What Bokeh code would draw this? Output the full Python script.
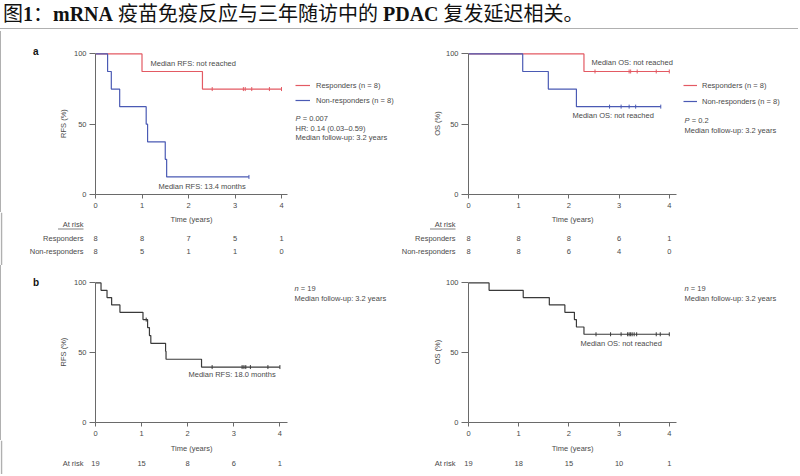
from math import pi
from bokeh.plotting import figure
from bokeh.models import Label, Legend, LegendItem, Div, FixedTicker, Range1d
from bokeh.core.properties import value
from bokeh.layouts import column, row
from bokeh.embed import file_html
from bokeh.resources import INLINE

# ---------------- data ----------------
year_ticks = [0, 1, 2, 3, 4]
pct_ticks = [0, 50, 100]

# panel a, RFS
a_rfs_resp_t = [0, 1.00, 2.30, 4.00]
a_rfs_resp_s = [100, 87.5, 75.0, 75.0]
a_rfs_resp_cens = [2.51, 3.18, 3.22, 3.36, 3.74, 4.00]
a_rfs_resp_cens_s = [75.0] * 6
a_rfs_non_t = [0, 0.26, 0.34, 0.52, 1.09, 1.12, 1.50, 1.53, 3.30]
a_rfs_non_s = [100, 87.5, 75.0, 62.5, 50.0, 37.5, 25.0, 12.5, 12.5]
a_rfs_non_cens = [3.30]
a_rfs_non_cens_s = [12.5]
a_rfs_risk_resp = [8, 8, 7, 5, 1]
a_rfs_risk_non = [8, 5, 1, 1, 0]

# panel a, OS
a_os_resp_t = [0, 2.30, 4.00]
a_os_resp_s = [100, 87.5, 87.5]
a_os_resp_cens = [2.52, 3.20, 3.23, 3.36, 3.74, 4.00]
a_os_resp_cens_s = [87.5] * 6
a_os_non_t = [0, 1.08, 1.59, 2.15, 3.83]
a_os_non_s = [100, 87.5, 75.0, 62.5, 62.5]
a_os_non_cens = [2.81, 3.04, 3.20, 3.33, 3.83]
a_os_non_cens_s = [62.5] * 5
a_os_risk_resp = [8, 8, 8, 6, 1]
a_os_risk_non = [8, 8, 6, 4, 0]

# panel b, RFS (n = 19)
b_rfs_t = [0, 0.12, 0.25, 0.35, 0.53, 1.03, 1.13, 1.17, 1.20, 1.52, 1.53, 2.30, 4.00]
b_rfs_s = [100, 94.7, 89.5, 84.2, 78.9, 73.7, 68.0, 62.3, 56.7, 51.0, 45.3, 39.7, 39.7]
b_rfs_cens = [1.10, 2.53, 3.18, 3.22, 3.26, 3.36, 3.74, 4.00]
b_rfs_cens_s = [73.7, 39.7, 39.7, 39.7, 39.7, 39.7, 39.7, 39.7]
b_rfs_risk = [19, 15, 8, 6, 1]

# panel b, OS (n = 19)
b_os_t = [0, 0.41, 1.09, 1.61, 1.92, 2.11, 2.15, 2.30, 4.00]
b_os_s = [100, 94.7, 89.5, 84.2, 78.9, 73.7, 68.4, 63.2, 63.2]
b_os_cens = [2.54, 2.83, 3.04, 3.17, 3.20, 3.23, 3.26, 3.30, 3.35, 3.74, 3.82, 4.00]
b_os_cens_s = [63.2] * 12
b_os_risk = [19, 18, 15, 10, 1]

# ---------------- style ----------------
RED = "#e35a63"
BLUE = "#4a5ab4"
BLACK = "#3a3a3a"
AXC = "#6a6a6a"
TXT = "#4a4a4a"
FRAMEC = "#b0b0b0"
FONT = "Liberation Sans"
FS = "7.5px"


class Geom:
    """Page geometry of one Kaplan-Meier figure."""
    def __init__(self, page_x, page_y, width, left, top, fh, bottom, sx, axis_end):
        self.page_x, self.page_y = page_x, page_y
        self.width, self.left, self.top = width, left, top
        self.fh, self.bottom = fh, bottom
        self.fw = width - left
        self.fl = page_x + left
        self.fb = page_y + top + fh
        self.sx = sx
        self.sy = fh / 101.0
        self.xend = self.fw / sx
        self.axis_end = axis_end

    def xd(self, px):
        return (px - self.fl) / self.sx

    def yd(self, py):
        return (self.fb - py) / self.sy


GA1 = Geom(45, 31, 355, 50, 21, 142, 18, 46.5, 4.13)
GA2 = Geom(400, 31, 398, 68, 21, 142, 18, 50.2, 4.15)
GB1 = Geom(45, 265, 355, 50, 16, 141, 18, 46.1, 4.17)
GB2 = Geom(400, 265, 398, 68, 16, 141, 18, 50.2, 4.15)


def make_km(g, ylabel, tick_out_y, standoff_y, label_standoff):
    p = figure(frame_width=g.fw, frame_height=g.fh,
               x_range=(0, g.xend), y_range=(0, 101),
               min_border_left=g.left, min_border_top=g.top,
               min_border_right=0, min_border_bottom=g.bottom,
               output_backend="svg", toolbar_location=None, title=None,
               margin=(0, 0, 0, 0), background_fill_color="white",
               border_fill_color="white", outline_line_color=None)
    p.xgrid.visible = False
    p.ygrid.visible = False
    p.xaxis.ticker = FixedTicker(ticks=year_ticks)
    p.yaxis.ticker = FixedTicker(ticks=pct_ticks)
    p.xaxis.bounds = (0, g.axis_end)
    p.yaxis.bounds = (0, 100)
    for ax in (p.xaxis[0], p.yaxis[0]):
        ax.axis_line_color = AXC
        ax.major_tick_line_color = AXC
        ax.minor_tick_line_color = None
        ax.major_tick_in = 0
        ax.major_label_text_font = FONT
        ax.major_label_text_font_size = FS
        ax.major_label_text_color = TXT
        ax.axis_label_text_font = FONT
        ax.axis_label_text_font_size = FS
        ax.axis_label_text_font_style = "normal"
        ax.axis_label_text_color = TXT
    p.xaxis.major_tick_out = 4
    p.xaxis.major_label_standoff = 4
    p.yaxis.axis_label = ylabel
    p.yaxis.major_tick_out = tick_out_y
    p.yaxis.major_label_standoff = standoff_y
    p.yaxis.axis_label_standoff = label_standoff
    return p


def text_fig(width, height, page_x, page_y, x_range):
    p = figure(frame_width=width, frame_height=height, x_range=Range1d(*x_range),
               y_range=Range1d(page_y + height, page_y),
               min_border=0, x_axis_type=None, y_axis_type=None,
               output_backend="svg", toolbar_location=None, title=None,
               margin=(0, 0, 0, 0), background_fill_color="white",
               border_fill_color="white", outline_line_color=None)
    return p


def curve(p, t, s, ct, cs, color):
    r = p.step(t, s, mode="after", line_color=color, line_width=1.2)
    c = p.scatter(ct, cs, marker="dash", angle=pi / 2, size=4,
                  line_color=color, line_width=1)
    return r, c


def lab(p, x, y, text, align="left", size=FS, style="normal", color=TXT):
    p.add_layout(Label(x=x, y=y, text=text, text_align=align,
                       text_baseline="middle", text_font=FONT,
                       text_font_size=size, text_font_style=style,
                       text_color=color))


def klab(p, g, px, py, text, **kw):
    lab(p, g.xd(px), g.yd(py), text, **kw)


def legend(p, g, gx, top_py, spacing, gw, stand, items):
    h = 10 * len(items) + spacing * (len(items) - 1)
    leg = Legend(items=[LegendItem(label=l, renderers=list(rs)) for l, rs in items],
                 location=(gx - g.fl, g.fb - (top_py + h)),
                 orientation="vertical", border_line_color=None,
                 background_fill_alpha=0, padding=0, margin=0,
                 spacing=spacing, glyph_width=gw, glyph_height=10,
                 label_height=10, label_standoff=stand,
                 label_text_font=FONT, label_text_font_size=FS,
                 label_text_color=TXT)
    p.add_layout(leg)


def table_fig(g, page_y, height, table_x0, rows, header, time_py, underline):
    # the table's x axis is in years, aligned with the KM frame above it
    x0 = (table_x0 - g.fl) / g.sx
    x1 = (g.page_x + g.width - g.fl) / g.sx
    width = g.page_x + g.width - table_x0
    p = text_fig(width, height, table_x0, page_y, (x0, x1))
    sx = lambda px: (px - g.fl) / g.sx
    lab(p, g.axis_end / 2.0, time_py, "Time (years)", align="center")
    lab(p, sx(header[0]), header[1], "At risk", align="right")
    if underline:
        p.segment(x0=[sx(header[0] - 25.5)], y0=[header[1] + 4.5],
                  x1=[sx(header[0])], y1=[header[1] + 4.5],
                  line_color=TXT, line_width=0.7)
    for name, py, counts in rows:
        if name:
            lab(p, sx(header[0]), py, name, align="right")
        p.text(x=year_ticks, y=[py] * len(year_ticks), text=[str(c) for c in counts],
               text_align="center", text_baseline="middle",
               text_font=value(FONT), text_font_size=value(FS), text_color=TXT)
    if table_x0 == 0:
        p.segment(x0=[sx(1)], y0=[page_y], x1=[sx(1)], y1=[page_y + height],
                  line_color=FRAMEC, line_width=1.5)
    return p


def letter_div(height, letter, top):
    html = ('<div style="position:relative;width:44px;height:%dpx;'
            'border-left:1.5px solid %s;">'
            '<span style="position:absolute;left:32px;top:%dpx;'
            'font-family:\'Liberation Sans\';font-weight:bold;font-size:10px;'
            'line-height:10px;color:#111;">%s</span></div>') % (height, FRAMEC, top, letter)
    return Div(text=html, width=45, height=height, margin=(0, 0, 0, 0))


# ---------------- panel a, RFS ----------------
pa1 = make_km(GA1, "RFS (%)", 6, 3, 3)
r1 = curve(pa1, a_rfs_resp_t, a_rfs_resp_s, a_rfs_resp_cens, a_rfs_resp_cens_s, RED)
r2 = curve(pa1, a_rfs_non_t, a_rfs_non_s, a_rfs_non_cens, a_rfs_non_cens_s, BLUE)
legend(pa1, GA1, 295, 80, 5, 15, 6,
       [("Responders (n = 8)", r1), ("Non-responders (n = 8)", r2)])
klab(pa1, GA1, 150, 62.5, "Median RFS: not reached")
klab(pa1, GA1, 158, 186, "Median RFS: 13.4 months")
klab(pa1, GA1, 295, 118, "P", style="italic")
klab(pa1, GA1, 302.2, 118, "= 0.007")
klab(pa1, GA1, 295, 127.5, "HR: 0.14 (0.03\u20130.59)")
klab(pa1, GA1, 295, 137, "Median follow-up: 3.2 years")

# ---------------- panel a, OS ----------------
pa2 = make_km(GA2, "OS (%)", 7, 3, 1)
o1 = curve(pa2, a_os_resp_t, a_os_resp_s, a_os_resp_cens, a_os_resp_cens_s, RED)
o2 = curve(pa2, a_os_non_t, a_os_non_s, a_os_non_cens, a_os_non_cens_s, BLUE)
legend(pa2, GA2, 683, 80, 6, 14, 5,
       [("Responders (n = 8)", o1), ("Non-responders (n = 8)", o2)])
klab(pa2, GA2, 591, 62, "Median OS: not reached")
klab(pa2, GA2, 572, 115, "Median OS: not reached")
klab(pa2, GA2, 684, 120, "P", style="italic")
klab(pa2, GA2, 691.2, 120, "= 0.2")
klab(pa2, GA2, 684, 130, "Median follow-up: 3.2 years")

# ---------------- panel b, RFS ----------------
pb1 = make_km(GB1, "RFS (%)", 6, 3, 3)
curve(pb1, b_rfs_t, b_rfs_s, b_rfs_cens, b_rfs_cens_s, BLACK)
klab(pb1, GB1, 294, 288, "n", style="italic")
klab(pb1, GB1, 300.3, 288, "= 19")
klab(pb1, GB1, 294, 298, "Median follow-up: 3.2 years")
klab(pb1, GB1, 188, 374, "Median RFS: 18.0 months")

# ---------------- panel b, OS ----------------
pb2 = make_km(GB2, "OS (%)", 7, 3, 1)
curve(pb2, b_os_t, b_os_s, b_os_cens, b_os_cens_s, BLACK)
klab(pb2, GB2, 684, 288, "n", style="italic")
klab(pb2, GB2, 690.3, 288, "= 19")
klab(pb2, GB2, 684, 298, "Median follow-up: 3.2 years")
klab(pb2, GB2, 580, 343, "Median OS: not reached")

# ---------------- at-risk tables ----------------
ta1 = table_fig(GA1, 212, 53, 0,
                [("Responders", 238, a_rfs_risk_resp),
                 ("Non-responders", 251, a_rfs_risk_non)],
                (83, 224), 219, True)
ta2 = table_fig(GA2, 212, 53, 400,
                [("Responders", 238, a_os_risk_resp),
                 ("Non-responders", 251, a_os_risk_non)],
                (455, 224), 219, True)
tb1 = table_fig(GB1, 440, 34, 0, [("", 463, b_rfs_risk)], (83, 463), 448, False)
tb2 = table_fig(GB2, 440, 34, 400, [("", 463, b_os_risk)], (455, 463), 448, False)

la = letter_div(181, "a", 16)
lb = letter_div(175, "b", 13)

# ---------------- title ----------------
title = Div(text=('<div style="font-family:\'Liberation Serif\',\'Noto Sans CJK SC\';'
                  'font-size:20px;line-height:29px;height:29px;width:798px;color:#111;'
                  'white-space:nowrap;padding-left:3px;box-sizing:border-box;'
                  'border-bottom:1.5px solid %s;">'
                  '图<b>1</b>：<b>mRNA</b> 疫苗免疫反应与三年随访中的 <b>PDAC</b> 复发延迟相关。</div>') % FRAMEC,
            width=798, height=31, margin=(0, 0, 0, 0))

layout = column(title,
                row(la, pa1, pa2, spacing=0),
                row(ta1, ta2, spacing=0),
                row(lb, pb1, pb2, spacing=0),
                row(tb1, tb2, spacing=0),
                spacing=0)
open("out.html", "w").write(file_html(layout, INLINE))
